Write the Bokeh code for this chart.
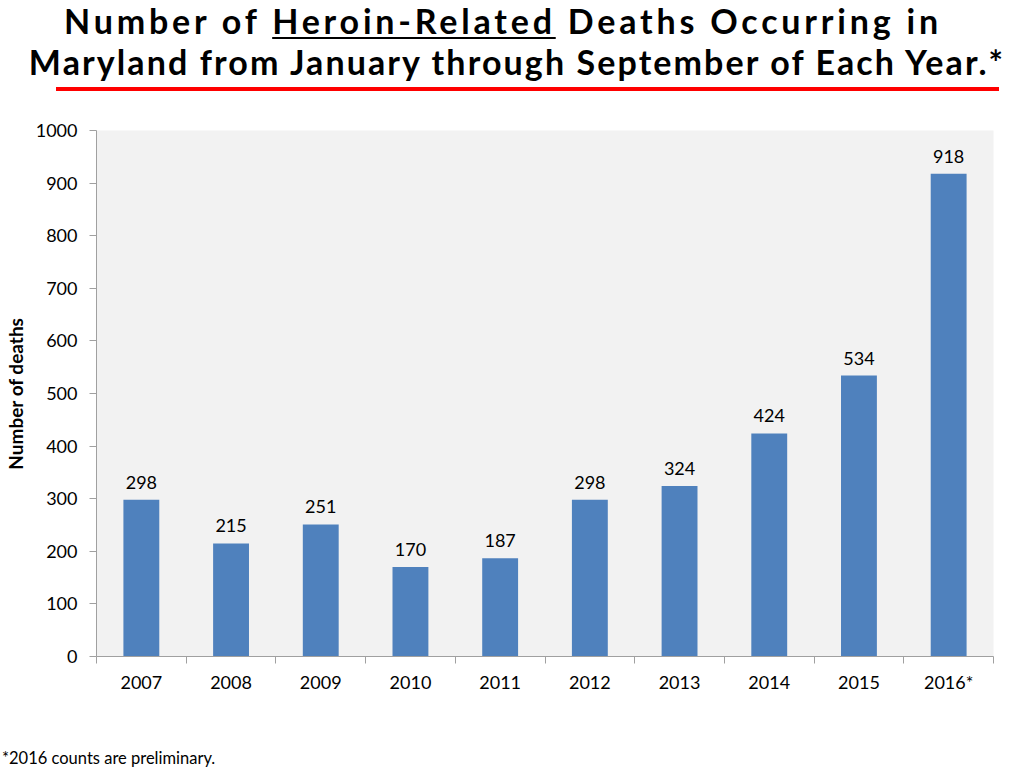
from bokeh.plotting import figure
from bokeh.models import Range1d, FixedTicker, SingleIntervalTicker, Div
from bokeh.layouts import column
from bokeh.core.properties import value
from bokeh.embed import file_html
from bokeh.resources import INLINE

years = ["2007", "2008", "2009", "2010", "2011", "2012", "2013", "2014", "2015", "2016*"]
deaths = [298, 215, 251, 170, 187, 298, 324, 424, 534, 918]
y_label = "Number of deaths"
title_line1 = 'Number of <u style="text-decoration-thickness:2px;text-underline-offset:3px">Heroin-Related</u> Deaths Occurring in'
title_line2 = "Maryland from January through September of Each Year.*"
footnote = "*2016 counts are preliminary."

FONT = "Lato"

title = Div(
    text=(
        f'<div style="width:1008px;text-align:center;font-family:\'{FONT}\';font-weight:bold;'
        f'font-size:34px;color:#000;">'
        f'<div style="line-height:32px;height:32px;letter-spacing:3.8px;padding-right:12px">{title_line1}</div>'
        f'<div style="line-height:50px;height:50px;letter-spacing:2.1px;padding-left:16px">{title_line2}</div></div>'
        '<div style="margin-left:51px;width:943px;height:4px;background:#ff0000;margin-top:0px"></div>'
    ),
    width=1008, height=96,
)

xs = list(range(len(years)))

p = figure(
    width=1008, height=616,
    x_range=Range1d(-0.5, len(years) - 0.5), y_range=Range1d(0, 1000),
    output_backend="svg", toolbar_location=None,
    min_border_left=92, min_border_right=15, min_border_top=24, min_border_bottom=66,
    background_fill_color="#f2f2f2", border_fill_color="white", outline_line_color=None,
)
p.xgrid.visible = False
p.ygrid.visible = False

p.vbar(x=xs, top=deaths, width=0.4, fill_color="#4f81bd", line_color=None)
p.text(x=xs, y=deaths, text=[str(d) for d in deaths], text_align="center",
       text_baseline="bottom", y_offset=-11, text_font=value(FONT),
       text_font_size="18px", text_color="#000000")

# x axis: labels at centres, ticks between categories
xt = FixedTicker(ticks=xs, minor_ticks=[i - 0.5 for i in range(len(years) + 1)])
xa = p.xaxis[0]
xa.ticker = xt
xa.major_label_overrides = {i: y for i, y in enumerate(years)}
xa.major_tick_line_color = None
xa.major_tick_out = 0
xa.major_tick_in = 0
xa.minor_tick_out = 7
xa.minor_tick_in = 0
xa.minor_tick_line_color = "#a0a0a0"
xa.axis_line_color = "#a0a0a0"
xa.major_label_standoff = 7
xa.major_label_text_font = FONT
xa.major_label_text_font_size = "18px"
xa.major_label_text_color = "#000000"

ya = p.yaxis[0]
ya.ticker = SingleIntervalTicker(interval=100, num_minor_ticks=0)
ya.major_tick_out = 7
ya.major_tick_in = 0
ya.minor_tick_line_color = None
ya.major_tick_line_color = "#a0a0a0"
ya.axis_line_color = "#a0a0a0"
ya.major_label_standoff = 12
ya.major_label_text_font = FONT
ya.major_label_text_font_size = "18px"
ya.major_label_text_color = "#000000"
ya.axis_label = y_label
ya.axis_label_text_font = FONT
ya.axis_label_text_font_style = "bold"
ya.axis_label_text_font_size = "19px"
ya.axis_label_standoff = 6
ya.axis_label_text_color = "#000000"

foot = Div(
    text=f'<div style="font-family:\'{FONT}\';font-size:16.5px;line-height:18px;color:#000;padding-top:22px;margin-left:-3px">{footnote}</div>',
    width=1008, height=40,
)

layout = column(title, p, foot, spacing=0)
open("out.html", "w").write(file_html(layout, INLINE))
